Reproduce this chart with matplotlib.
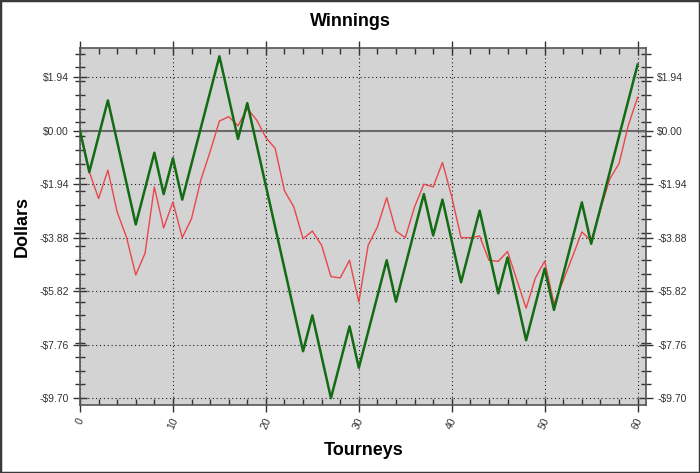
import matplotlib
matplotlib.use("Agg")
import matplotlib.pyplot as plt
from matplotlib.patches import Rectangle
from matplotlib.ticker import FixedLocator, FuncFormatter, MultipleLocator
import numpy as np

plt.rcParams['font.family'] = ['Liberation Sans', 'DejaVu Sans']

# Données
tourneys = list(range(0, 61))
winnings_green = [0.0, -1.5, -0.2, 1.1, -0.4, -1.9, -3.4, -2.1, -0.8, -2.3,
                  -1.0, -2.5, -1.2, 0.1, 1.4, 2.7, 1.2, -0.3, 1.0, -0.5,
                  -2.0, -3.5, -5.0, -6.5, -8.0, -6.7, -8.2, -9.7, -8.4, -7.1,
                  -8.6, -7.3, -6.0, -4.7, -6.2, -4.9, -3.6, -2.3, -3.8, -2.5,
                  -4.0, -5.5, -4.2, -2.9, -4.4, -5.9, -4.6, -6.1, -7.6, -6.3,
                  -5.0, -6.5, -5.2, -3.9, -2.6, -4.1, -2.8, -1.5, -0.2, 1.1,
                  2.4]
winnings_red = [0.0, -1.49, -2.46, -1.43, -2.95, -3.86, -5.23, -4.44, -2.04, -3.53,
                -2.58, -3.88, -3.19, -1.79, -0.76, 0.35, 0.51, 0.18, 0.81, 0.39,
                -0.25, -0.64, -2.18, -2.76, -3.92, -3.64, -4.16, -5.29, -5.34, -4.70,
                -6.22, -4.16, -3.49, -2.43, -3.64, -3.88, -2.76, -1.94, -2.04, -1.15,
                -2.40, -3.88, -3.88, -3.82, -4.70, -4.74, -4.38, -5.41, -6.44, -5.34,
                -4.73, -6.28, -5.43, -4.56, -3.67, -4.00, -2.85, -1.75, -1.19, 0.20,
                1.21]
yticks = [-9.70, -7.76, -5.82, -3.88, -1.94, 0.0, 1.94]
xticks = [0, 10, 20, 30, 40, 50, 60]

fig = plt.figure(figsize=(7, 4.73), dpi=100)
ax = fig.add_axes([80 / 700, 1 - 405 / 473, 566 / 700, 357 / 473])
ax.set_facecolor('#d3d3d3')

ax.plot(tourneys, winnings_red, color='#e8474c', linewidth=1.0, zorder=3)
ax.plot(tourneys, winnings_green, color='#136b13', linewidth=1.8, zorder=4)
ax.axhline(0, color='#6a6a6a', linewidth=1.5, zorder=2)

ax.set_xlim(0, 60.9)
ax.set_ylim(-9.95, 3.0)

ax.xaxis.set_major_locator(FixedLocator(xticks))
ax.xaxis.set_minor_locator(MultipleLocator(2))
ax.yaxis.set_major_locator(FixedLocator(yticks))
ax.yaxis.set_minor_locator(FixedLocator(np.arange(-9.70, 3.0, 0.5)))


def dollars(v, pos):
    if abs(v) < 0.005:
        return '$0.00'
    return ('-' if v < 0 else '') + '$%.2f' % abs(v)


ax.yaxis.set_major_formatter(FuncFormatter(dollars))

# grille pointillée (sauf la ligne du zéro, tracée en plein)
grid_style = dict(color='#222222', linestyle=(0, (1, 2.5)), linewidth=0.8, zorder=1)
for xv in xticks:
    ax.axvline(xv, **grid_style)
for yv in yticks:
    if yv != 0.0:
        ax.axhline(yv, **grid_style)

ax.tick_params(axis='y', which='major', direction='inout', length=10, width=1,
               left=True, right=True, labelleft=True, labelright=True,
               labelsize=7.5, labelcolor='#333333', color='#333333', pad=3)
ax.tick_params(axis='y', which='minor', direction='inout', length=7, width=1,
               left=True, right=True, color='#333333')
ax.tick_params(axis='x', which='major', direction='inout', length=10, width=1,
               top=True, bottom=True, labelsize=7.5, labelcolor='#333333',
               color='#333333', pad=3)
ax.tick_params(axis='x', which='minor', direction='in', length=4, width=1,
               top=True, bottom=True, color='#333333')
for lab in ax.get_xticklabels():
    lab.set_rotation(65)
    lab.set_ha('center')
    lab.set_va('top')

for side in ['left', 'right', 'top', 'bottom']:
    ax.spines[side].set_color('#555555')
    ax.spines[side].set_linewidth(1.2)

fig.text(0.5, 1 - 22 / 473, 'Winnings', ha='center', va='center',
         fontsize=13, fontweight='bold')
fig.text(364 / 700, 1 - 450 / 473, 'Tourneys', ha='center', va='center',
         fontsize=13, fontweight='bold')
fig.text(22 / 700, 1 - 226 / 473, 'Dollars', ha='center', va='center',
         fontsize=13, fontweight='bold', rotation=90)

fig.patches.append(Rectangle((0, 0), 1, 1, transform=fig.transFigure, fill=False,
                             edgecolor='#3a3a3a', linewidth=2.5))

fig.savefig('out.png', dpi=100)
